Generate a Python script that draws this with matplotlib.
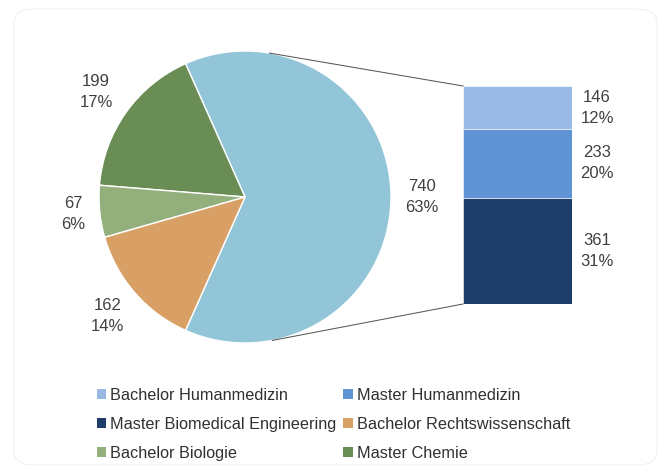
import matplotlib
matplotlib.use("Agg")
import matplotlib.pyplot as plt
from matplotlib.patches import Patch, FancyBboxPatch
from matplotlib.lines import Line2D
import numpy as np

# ---- data ----
bar_labels = ["Bachelor Humanmedizin", "Master Humanmedizin", "Master Biomedical Engineering"]
bar_values = [146, 233, 361]
bar_colors = ["#98B9E3", "#5F93D3", "#1F3D6A"]

pie_labels = ["Master Chemie", "Bachelor Biologie", "Bachelor Rechtswissenschaft"]
pie_values = [199, 67, 162]
pie_colors = ["#6A8C55", "#93B07C", "#D9A066"]
other_color = "#92C5D8"

legend_order = ["Bachelor Humanmedizin", "Master Humanmedizin",
                "Master Biomedical Engineering", "Bachelor Rechtswissenschaft",
                "Bachelor Biologie", "Master Chemie"]

W, H = 664, 469
fig = plt.figure(figsize=(W / 100, H / 100), dpi=100)

def frac_box(x0, y0, x1, y1):
    return [x0 / W, 1 - y1 / H, (x1 - x0) / W, (y1 - y0) / H]

# rounded border
fig.patches.append(FancyBboxPatch((14 / W, 4 / H), 643 / W, 456 / H,
                                  boxstyle="round,pad=0,rounding_size=0.03",
                                  transform=fig.transFigure, fill=False,
                                  edgecolor="#EEEEEE", linewidth=0.6))

label_font = dict(family=["Liberation Sans", "DejaVu Sans"], size=12, color="#404040")

# ---- pie ----
ax_pie = fig.add_axes(frac_box(99, 51, 391, 343))
ax_pie.axis("off")
other_total = sum(bar_values)
vals = [other_total] + pie_values
cols = [other_color] + pie_colors
total = sum(vals)
start = -other_total / total * 360 / 2
ax_pie.pie(vals, colors=cols, startangle=start, counterclock=True, radius=1,
           center=(0, 0), wedgeprops=dict(edgecolor="white", linewidth=1.0))
ax_pie.set_xlim(-1, 1)
ax_pie.set_ylim(-1, 1)
ax_pie.set_aspect("auto")

label_r = [1.21, 1.25, 1.18, 1.245]
acc = start
for v, r in zip(vals, label_r):
    span = v / total * 360
    mid = np.deg2rad(acc + span / 2)
    acc += span
    pct = "{:.0f}".format(v / total * 100)
    ax_pie.text(r * np.cos(mid), r * np.sin(mid), f"{v}\n{pct}%", ha="center", va="center",
                linespacing=1.5, clip_on=False, **label_font)

# ---- bar ----
ax_bar = fig.add_axes(frac_box(463, 86, 572, 304))
ax_bar.set_xlim(-0.5, 0.5)
ax_bar.set_ylim(0, sum(bar_values))
ax_bar.axis("off")
bottom = 0
for lab, v, c in reversed(list(zip(bar_labels, bar_values, bar_colors))):
    ax_bar.bar(0, v, width=1.0, bottom=bottom, color=c, edgecolor="white", linewidth=0.4)
    pct = "{:.0f}".format(v / total * 100)
    ax_bar.text(0.73, bottom + v / 2, f"{v}\n{pct}%", ha="center", va="center",
                linespacing=1.5, clip_on=False, **label_font)
    bottom += v

# ---- connector lines (tangents from bar corners to pie) ----
cx, cy = ax_pie.transData.transform((0, 0))
rx = ax_pie.transData.transform((1, 0))[0] - cx
fw, fh = fig.bbox.width, fig.bbox.height
for yv, sgn in [(sum(bar_values), 1), (0, -1)]:
    px, py = ax_bar.transData.transform((-0.5, yv))
    dx, dy = px - cx, py - cy
    d = np.hypot(dx, dy)
    base = np.arctan2(dy, dx)
    t = base + sgn * np.arccos(rx / d)
    tx, ty = cx + rx * np.cos(t), cy + rx * np.sin(t)
    fig.add_artist(Line2D([tx / fw, px / fw], [ty / fh, py / fh], transform=fig.transFigure,
                          color="#595959", linewidth=0.75))

# ---- legend ----
color_map = dict(zip(bar_labels + pie_labels, bar_colors + pie_colors))
handles = [Patch(facecolor=color_map[l], edgecolor="none", label=l) for l in legend_order]
order = [0, 2, 4, 1, 3, 5]
leg = fig.legend([handles[i] for i in order], [legend_order[i] for i in order],
                 ncol=2, loc="upper left", bbox_to_anchor=(97 / W, 1 - 388 / H),
                 frameon=False, handlelength=0.58, handleheight=0.58, handletextpad=0.25,
                 columnspacing=0.4, labelspacing=0.86, borderaxespad=0, borderpad=0,
                 prop=dict(family=["Liberation Sans", "DejaVu Sans"], size=11.7))
for t in leg.get_texts():
    t.set_color("#303030")

fig.savefig("out.png", dpi=100)
